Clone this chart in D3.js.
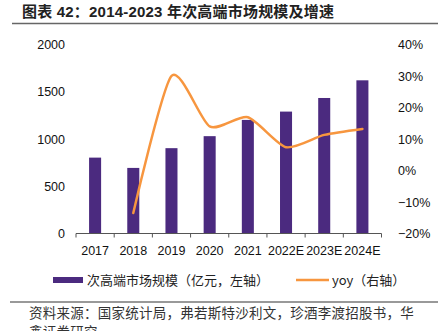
<!DOCTYPE html>
<html><head><meta charset="utf-8">
<script src="https://cdn.jsdelivr.net/npm/d3@7/dist/d3.min.js"></script>
<style>body{margin:0;background:#fff}svg{display:block}</style>
</head><body>
<svg id="c" width="438" height="331"></svg>
<script>
const categories = ["2017","2018","2019","2020","2021","2022E","2023E","2024E"];
const marketSize = [803, 694, 903, 1030, 1202, 1290, 1434, 1621];
const yoy = [null, -13.5, 30.0, 14.0, 16.9, 7.4, 11.3, 13.2];
const leftTicks = [0, 500, 1000, 1500, 2000];
const rightTicks = [-20, -10, 0, 10, 20, 30, 40];

const svg = d3.select("#c");
const latin = "'Liberation Sans', Arial, sans-serif";
const cjk = "'Noto Sans CJK SC', sans-serif";

// title
svg.append("text").attr("x", 22).attr("y", 17)
  .attr("font-family", "'Liberation Sans','Noto Sans CJK SC',sans-serif")
  .attr("font-weight", "bold").attr("font-size", 15).attr("letter-spacing", 0.2).attr("fill", "#222")
  .text("图表 42：2014-2023 年次高端市场规模及增速");
svg.append("line").attr("x1", 12).attr("x2", 438).attr("y1", 23.5).attr("y2", 23.5)
  .attr("stroke", "#666").attr("stroke-width", 1.5);

const x = d3.scaleBand().domain(categories).range([76, 381.5]).paddingInner(0.685).paddingOuter(0.3425);
const xb = d3.scaleBand().domain(categories).range([76, 381.5]);
const yL = d3.scaleLinear().domain([0, 2000]).range([233.5, 44.5]);
const yR = d3.scaleLinear().domain([-20, 40]).range([233.5, 44.5]);

// bars
svg.append("g").selectAll("rect").data(categories).join("rect")
  .attr("x", (d) => x(d)).attr("width", x.bandwidth())
  .attr("y", (d, i) => yL(marketSize[i])).attr("height", (d, i) => yL(0) - yL(marketSize[i]))
  .attr("fill", "#4B2A7F");

// x axis
const gx = svg.append("g").attr("transform", "translate(0,233.5)");
gx.append("line").attr("x1", 76).attr("x2", 381.5).attr("stroke", "#555").attr("stroke-width", 1);
const bounds = categories.map(c => xb(c)).concat([381.5]);
gx.selectAll("line.t").data(bounds).join("line").attr("class", "t")
  .attr("x1", d => d).attr("x2", d => d).attr("y1", 0).attr("y2", 4)
  .attr("stroke", "#555");
gx.selectAll("text").data(categories).join("text")
  .attr("x", d => xb(d) + xb.bandwidth() / 2).attr("y", 21)
  .attr("text-anchor", "middle").attr("font-family", latin).attr("font-size", 12.5).attr("fill", "#111")
  .text(d => d);

// left axis labels
svg.append("g").selectAll("text").data(leftTicks).join("text")
  .attr("x", 65).attr("y", d => yL(d) + 4.5).attr("text-anchor", "end")
  .attr("font-family", latin).attr("font-size", 12.5).attr("fill", "#111").text(d => d);

// right axis labels
svg.append("g").selectAll("text").data(rightTicks).join("text")
  .attr("x", 398).attr("y", d => yR(d) + 4.5).attr("text-anchor", "start")
  .attr("font-family", latin).attr("font-size", 12.5).attr("fill", "#111")
  .text(d => (d < 0 ? "\u2212" + Math.abs(d) : d) + "%");

// yoy line
const pts = categories.map((c, i) => [xb(c) + xb.bandwidth() / 2, yoy[i]]).filter(p => p[1] !== null);
svg.append("path").datum(pts)
  .attr("d", d3.line().x(p => p[0]).y(p => yR(p[1])).curve(d3.curveCardinal.tension(0.3)))
  .attr("fill", "none").attr("stroke", "#F7963F").attr("stroke-width", 2.5).attr("stroke-linecap", "round");

// legend
svg.append("rect").attr("x", 53).attr("y", 277).attr("width", 30).attr("height", 6).attr("fill", "#4B2A7F");
svg.append("text").attr("x", 87).attr("y", 285).attr("font-family", cjk).attr("font-size", 13).attr("fill", "#222")
  .text("次高端市场规模（亿元，左轴）");
svg.append("line").attr("x1", 296).attr("x2", 329).attr("y1", 280).attr("y2", 280)
  .attr("stroke", "#F7963F").attr("stroke-width", 2.5);
svg.append("text").attr("x", 332).attr("y", 285).attr("font-family", cjk).attr("font-size", 13).attr("fill", "#222")
  .text("yoy（右轴）");

// source
svg.append("line").attr("x1", 10).attr("x2", 438).attr("y1", 302).attr("y2", 302)
  .attr("stroke", "#777").attr("stroke-width", 1.3);
svg.append("text").attr("x", 29).attr("y", 318).attr("font-family", cjk).attr("font-size", 13.5)
  .attr("letter-spacing", 0.25).attr("fill", "#333")
  .text("资料来源：国家统计局，弗若斯特沙利文，珍酒李渡招股书，华");
svg.append("text").attr("x", 29).attr("y", 337).attr("font-family", cjk).attr("font-size", 13.5)
  .attr("letter-spacing", 0.25).attr("fill", "#333")
  .text("鑫证券研究");
</script>
</body></html>
